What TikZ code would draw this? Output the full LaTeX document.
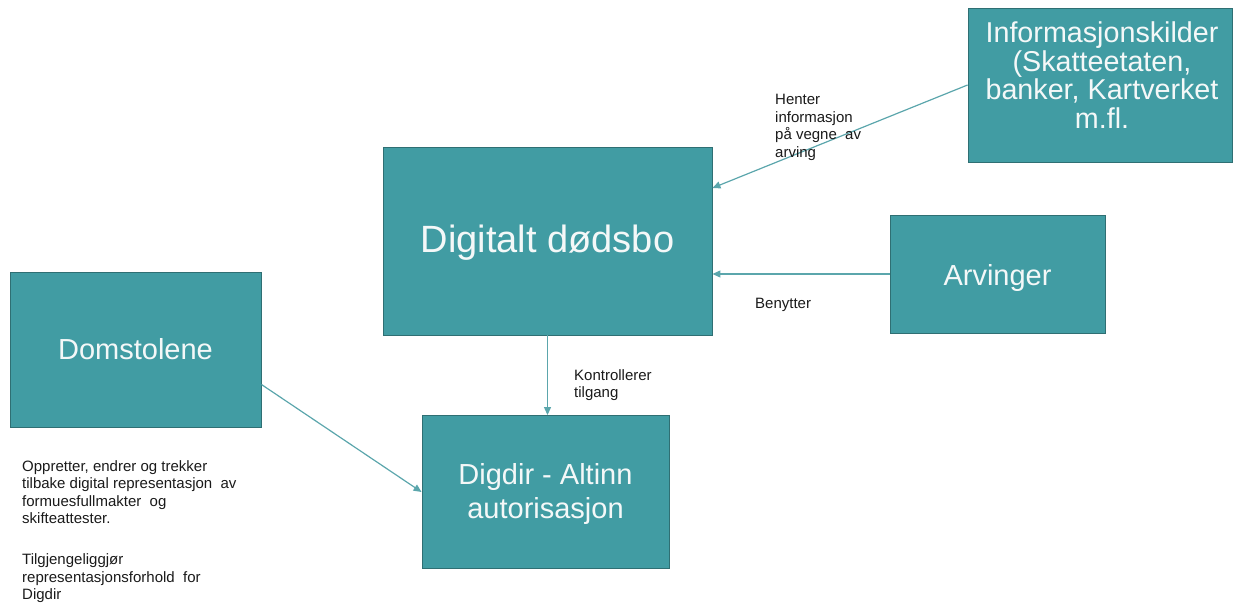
\documentclass[tikz,border=0pt]{standalone}
\usepackage{fontspec}
\setmainfont{Liberation Sans}
\usetikzlibrary{arrows.meta}
\definecolor{boxfill}{HTML}{419CA3}
\definecolor{boxline}{HTML}{2F6F73}
\definecolor{connline}{HTML}{5BA6AC}
\definecolor{boxtext}{HTML}{F4F8F8}
\definecolor{labeltext}{HTML}{1A1A1A}
\tikzset{
  tealbox/.style={draw=boxline, line width=0.9pt, fill=boxfill, inner sep=0pt},
  boxlabel/.style={text=boxtext, align=center, inner sep=0pt, font=\fontsize{29}{34}\selectfont},
  conn/.style={draw=connline, line width=1.2pt, -{Triangle[length=8pt,width=7pt]}},
  smalllabel/.style={text=labeltext, align=left, inner sep=0pt, font=\fontsize{15}{17.5}\selectfont}
}
\begin{document}
\begin{tikzpicture}[x=1pt,y=-1pt]
\useasboundingbox (0,0) rectangle (1241,605);
\node[tealbox, minimum width=264pt, minimum height=154pt] (info) at (1100,85) {};
\node[tealbox, minimum width=329pt, minimum height=188pt] (dig) at (547.5,241) {};
\node[tealbox, minimum width=215pt, minimum height=118pt] (arv) at (997.5,274) {};
\node[tealbox, minimum width=251pt, minimum height=155pt] (dom) at (135.5,349.5) {};
\node[tealbox, minimum width=247pt, minimum height=153pt] (digdir) at (545.5,492) {};

\node[boxlabel, font=\fontsize{28.7}{28.5}\selectfont, anchor=north] (infotxt) at (1102,22)
  {Informasjonskilder\\(Skatteetaten,\\banker, Kartverket\\m.fl.};
\node[boxlabel, font=\fontsize{38}{44}\selectfont, anchor=base] (digtxt) at (547.5,252) {Digitalt dødsbo};
\node[boxlabel, anchor=base] (arvtxt) at (997.5,285) {Arvinger};
\node[boxlabel, anchor=base] (domtxt) at (135.5,359) {Domstolene};
\node[boxlabel, anchor=north] (digdirtxt) at (545.5,463) {Digdir - Altinn\\autorisasjon};

\draw[conn] (info.west) -- ([yshift=53pt]dig.east);
\draw[conn] (arv.west) -- (arv.west -| dig.east);
\draw[conn] (dig.south) -- (dig.south |- digdir.north);
\draw[conn] ([yshift=-35pt]dom.east) -- (digdir.west);

\node[smalllabel, anchor=north west] (lblhenter) at (775,94.3) {Henter\\informasjon\\på vegne\ \ av\\arving};
\node[smalllabel, anchor=base west] (lblbenytter) at (755,308) {Benytter};
\node[smalllabel, anchor=north west] (lblkontroll) at (574,369) {Kontrollerer\\tilgang};
\node[smalllabel, anchor=north west] (lbldom) at (22,460) {Oppretter,\ endrer\ og trekker\\tilbake digital representasjon\ \ av\\formuesfullmakter\ \ og\\skifteattester.\\[23.5pt]Tilgjengeliggjør\\representasjonsforhold\ \ for\\Digdir};
\end{tikzpicture}
\end{document}
